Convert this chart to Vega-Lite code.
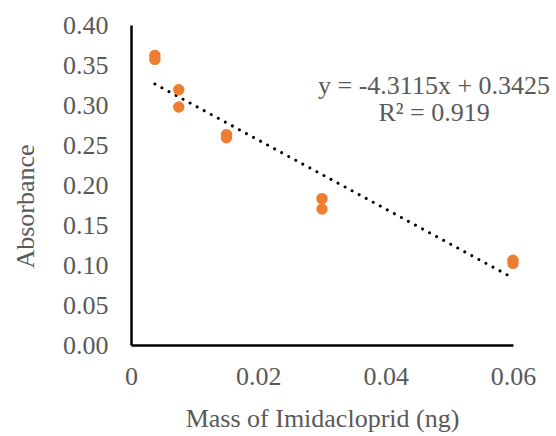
{
  "$schema": "https://vega.github.io/schema/vega-lite/v6.json",
  "width": 382,
  "height": 320,
  "autosize": {"type": "none"},
  "padding": {"left": 131, "top": 25, "right": 43, "bottom": 91},
  "background": "white",
  "config": {
    "view": {"stroke": null},
    "axis": {
      "grid": false,
      "ticks": false,
      "labelOverlap": false,
      "labelFlush": false,
      "domainColor": "#000000",
      "domainWidth": 2.5,
      "labelFont": "Liberation Serif",
      "labelFontSize": 26,
      "labelColor": "#595959",
      "titleFont": "Liberation Serif",
      "titleFontSize": 26,
      "titleFontWeight": "normal",
      "titleColor": "#595959"
    }
  },
  "datasets": {
    "pts": [
      {"mass": 0.00375, "abs": 0.362},
      {"mass": 0.00375, "abs": 0.357},
      {"mass": 0.0075, "abs": 0.319},
      {"mass": 0.0075, "abs": 0.2975},
      {"mass": 0.015, "abs": 0.263},
      {"mass": 0.015, "abs": 0.259},
      {"mass": 0.03, "abs": 0.183},
      {"mass": 0.03, "abs": 0.170},
      {"mass": 0.06, "abs": 0.106},
      {"mass": 0.06, "abs": 0.102}
    ],
    "trend": [
      {"mass": 0.00375, "abs": 0.3263},
      {"mass": 0.06, "abs": 0.0838}
    ],
    "labels": [
      {"mass": 0.0476, "abs": 0.3235, "txt": "y = -4.3115x + 0.3425\nR² = 0.919"}
    ]
  },
  "encoding": {
    "x": {
      "field": "mass", "type": "quantitative",
      "scale": {"domain": [0, 0.06], "nice": false},
      "axis": {
        "values": [0, 0.02, 0.04, 0.06],
        "labelOverlap": false,
        "labelExpr": "datum.value == 0 ? '0' : format(datum.value, '.2f')",
        "labelPadding": 18,
        "title": "Mass of Imidacloprid (ng)",
        "titlePadding": 16
      }
    },
    "y": {
      "field": "abs", "type": "quantitative",
      "scale": {"domain": [0, 0.4], "nice": false},
      "axis": {
        "values": [0, 0.05, 0.1, 0.15, 0.2, 0.25, 0.3, 0.35, 0.4],
        "tickCount": 9,
        "labelOverlap": false,
        "labelSeparation": 0,
        "labelExpr": "format(datum.value, '.2f')",
        "labelPadding": 23,
        "title": "Absorbance",
        "titlePadding": 24,
        "titleY": 181
      }
    }
  },
  "layer": [
    {
      "data": {"name": "trend"},
      "mark": {"type": "line", "color": "#000000", "strokeWidth": 3, "strokeDash": [0.01, 8], "strokeCap": "round"}
    },
    {
      "data": {"name": "pts"},
      "mark": {"type": "circle", "size": 130, "color": "#ED7D31", "opacity": 1}
    },
    {
      "data": {"name": "labels"},
      "mark": {"type": "text", "font": "Liberation Serif", "fontSize": 26, "lineHeight": 27, "lineBreak": "\n", "color": "#595959", "align": "center", "baseline": "middle"},
      "encoding": {
        "text": {"field": "txt"}
      }
    }
  ]
}
